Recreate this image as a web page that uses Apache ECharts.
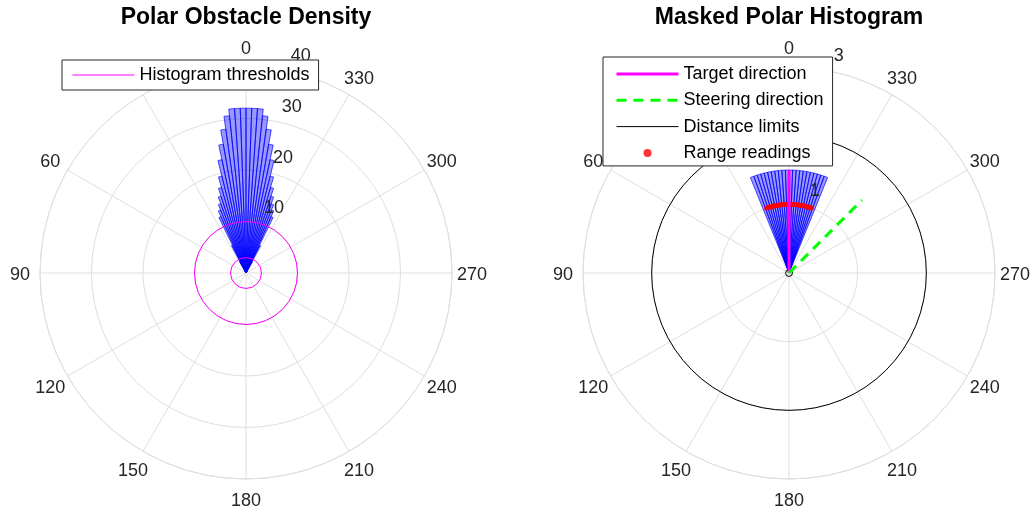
<!DOCTYPE html>
<html><head><meta charset="utf-8">
<script src="https://cdn.jsdelivr.net/npm/echarts@6/dist/echarts.min.js"></script>
<style>html,body{margin:0;padding:0;background:#fff}#c{width:1033px;height:515px}</style>
</head><body><div id="c"></div>
<script>
// ---------- data ----------
const angleTicks = [0, 30, 60, 90, 120, 150, 180, 210, 240, 270, 300, 330];
const densityRTicks = [0, 10, 20, 30, 40];
const maskedRTicks = [0, 1, 2, 3];

// Polar obstacle density: 2-degree sectors (edges in degrees, + = counterclockwise from top)
const densityBinEdges = [-30,-28,-26,-24,-22,-20,-18,-16,-14,-12,-10,-8,-6,-4,-2,0,2,4,6,8,10,12,14,16,18,20,22,24,26,28,30];
const densityValues   = [2.5,6,12,13.2,14.3,15.7,17.3,19.4,22.5,25.4,28.2,30.7,32,32,32,32,32,32,30.7,28.2,25.4,22.5,19.4,17.3,15.7,14.3,13.2,12,6,2.5];
const histogramThresholds = [3, 10];

// Masked polar histogram
const maskedBinEdges = [-22,-20,-18,-16,-14,-12,-10,-8,-6,-4,-2,0,2,4,6,8,10,12,14,16,18,20,22];
const maskedValues   = [1.5,1.5,1.5,1.5,1.5,1.5,1.5,1.5,1.5,1.5,1.5,1.5,1.5,1.5,1.5,1.5,1.5,1.5,1.5,1.5,1.5,1.5];
const targetDirection = 0;
const steeringDirection = 315;
const directionLength = 1.5;
const distanceLimits = [0.05, 2];
const rangeAngles   = [-19,-18,-17,-16,-15,-14,-13,-12,-11,-10,-9,-8,-7,-6,-5,-4,-3,-2,-1,0,1,2,3,4,5,6,7,8,9,10,11,12,13,14,15,16,17,18,19];
const rangeReadings = [1,1,1,1,1,1,1,1,1,1,1,1,1,1,1,1,1,1,1,1,1,1,1,1,1,1,1,1,1,1,1,1,1,1,1,1,1,1,1];

// ---------- style ----------
const FONT = 'Liberation Sans, Arial, Helvetica, sans-serif';
const TXT = '#262626';
const GRID = '#dfdfdf';
const FS = 18;
const CENTERS = [[246, 273], [789, 273]];
const RADIUS = 206;
const LABEL_RADIUS = 226;   // pixel radius of the theta tick label centres

const chart = echarts.init(document.getElementById('c'));
const norm = a => ((a % 360) + 360) % 360;

function mainPolar(i) { return { center: CENTERS[i], radius: RADIUS }; }
function angleAxisMain(pi) {
  return {
    polarIndex: pi, type: 'value', min: 0, max: 360,
    interval: angleTicks[1] - angleTicks[0], startAngle: 90, clockwise: false,
    axisLine: { show: true, lineStyle: { color: GRID, width: 1 } },
    axisTick: { show: false },
    splitLine: { show: true, lineStyle: { color: GRID, width: 1 } },
    axisLabel: { show: false }
  };
}
function radiusAxisMain(pi, ticks) {
  return {
    polarIndex: pi, type: 'value', min: ticks[0], max: ticks[ticks.length - 1], interval: ticks[1] - ticks[0],
    axisLine: { show: false }, axisTick: { show: false }, axisLabel: { show: false },
    splitLine: { show: true, lineStyle: { color: GRID, width: 1 } }
  };
}
function angleAxisLabelPolar(pi) {
  return { polarIndex: pi, type: 'value', min: 0, max: 360, startAngle: 80, clockwise: false, show: false };
}
function radiusAxisLabelPolar(pi, ticks) {
  return {
    polarIndex: pi, type: 'value', min: ticks[0], max: ticks[ticks.length - 1], interval: ticks[1] - ticks[0],
    z: 50,
    axisLine: { show: false }, axisTick: { show: false }, splitLine: { show: false },
    axisLabel: { margin: 0, align: 'left', verticalAlign: 'bottom', padding: [0, 0, 5, 9],
      color: TXT, fontSize: FS, fontFamily: FONT,
      formatter: v => (v === 0 ? '' : String(v)) }
  };
}
function thetaLabelSeries(pi, rMax) {
  const rl = rMax * LABEL_RADIUS / RADIUS;
  return {
    type: 'scatter', coordinateSystem: 'polar', polarIndex: pi, z: 1, silent: true, clip: false,
    symbol: 'circle', symbolSize: 1, itemStyle: { color: 'rgba(0,0,0,0)' },
    label: { show: true, position: 'inside', offset: [0, 2], color: TXT, fontSize: FS, fontFamily: FONT, opacity: 1,
      formatter: p => String(p.value[1]) },
    data: angleTicks.map(a => [rl, a])
  };
}

function wedgeSeries(pi, edges, values) {
  return {
    type: 'custom', coordinateSystem: 'polar', polarIndex: pi, z: 2, silent: true,
    data: values.map((v, i) => [v, edges[i], edges[i + 1]]),
    renderItem(params, api) {
      const r = api.value(0), a0 = api.value(1), a1 = api.value(2);
      const pts = [api.coord([0, norm(a0)])];
      const n = 8;
      for (let k = 0; k <= n; k++) {
        pts.push(api.coord([r, norm(a0 + (a1 - a0) * k / n)]));
      }
      return { type: 'polygon', shape: { points: pts },
        style: { fill: 'rgba(0,0,255,0.40)', stroke: '#0000ff', lineWidth: 0.7 } };
    }
  };
}
function circleSeries(pi, radii, color) {
  return {
    type: 'custom', coordinateSystem: 'polar', polarIndex: pi, z: 3, silent: true,
    data: radii.map(r => [r, 0]),
    renderItem(params, api) {
      const c = api.coord([0, 0]);
      const p = api.coord([api.value(0), 0]);
      const r = Math.hypot(p[0] - c[0], p[1] - c[1]);
      return { type: 'circle', shape: { cx: c[0], cy: c[1], r: r },
        style: { fill: null, stroke: color, lineWidth: 1 } };
    }
  };
}

const legendBase = {
  orient: 'vertical', z: 100, backgroundColor: '#ffffff', borderColor: TXT, borderWidth: 1,
  itemWidth: 62, itemHeight: 14, itemTextGap: 6, selectedMode: false,
  textStyle: { color: '#000', fontSize: FS, fontFamily: FONT }
};
const hideSym = { opacity: 0 };

const option = {
  animation: false,
  backgroundColor: '#ffffff',
  title: [
    { text: 'Polar Obstacle Density', left: 241, top: 1, textAlign: 'center',
      textStyle: { fontSize: 23, fontWeight: 'bold', color: '#000', fontFamily: FONT } },
    { text: 'Masked Polar Histogram', left: 784, top: 1, textAlign: 'center',
      textStyle: { fontSize: 23, fontWeight: 'bold', color: '#000', fontFamily: FONT } }
  ],
  polar: [mainPolar(0), mainPolar(1), mainPolar(0), mainPolar(1)],
  angleAxis: [angleAxisMain(0), angleAxisMain(1), angleAxisLabelPolar(2), angleAxisLabelPolar(3)],
  radiusAxis: [radiusAxisMain(0, densityRTicks), radiusAxisMain(1, maskedRTicks),
               radiusAxisLabelPolar(2, densityRTicks), radiusAxisLabelPolar(3, maskedRTicks)],
  legend: [
    Object.assign({}, legendBase, { left: 62, top: 60, padding: [6, 9, 6, 10], itemGap: 8,
      data: [{ name: 'Histogram thresholds', itemStyle: hideSym, lineStyle: { width: 1 } }] }),
    Object.assign({}, legendBase, { left: 603, top: 57, padding: [8, 9, 4, 12], itemGap: 8.3,
      data: [
        { name: 'Target direction', itemStyle: hideSym, lineStyle: { width: 3 } },
        { name: 'Steering direction', itemStyle: hideSym, lineStyle: { width: 3 } },
        { name: 'Distance limits', itemStyle: hideSym, lineStyle: { width: 1 } },
        { name: 'Range readings', icon: 'path://M0,0M62,14M27,7a4,4 0 1,0 8,0a4,4 0 1,0 -8,0' }] })
  ],
  series: [
    thetaLabelSeries(0, densityRTicks[densityRTicks.length - 1]),
    thetaLabelSeries(1, maskedRTicks[maskedRTicks.length - 1]),

    wedgeSeries(0, densityBinEdges, densityValues),
    circleSeries(0, histogramThresholds, '#ff00ff'),
    { name: 'Histogram thresholds', type: 'line', coordinateSystem: 'polar', polarIndex: 0, data: [],
      symbol: 'none', itemStyle: { color: '#ff00ff' }, lineStyle: { color: '#ff00ff', width: 1 } },

    wedgeSeries(1, maskedBinEdges, maskedValues),
    circleSeries(1, distanceLimits, '#000000'),
    { name: 'Distance limits', type: 'line', coordinateSystem: 'polar', polarIndex: 1, data: [],
      symbol: 'none', itemStyle: { color: '#000' }, lineStyle: { color: '#000', width: 1 } },
    { name: 'Range readings', type: 'scatter', coordinateSystem: 'polar', polarIndex: 1, z: 4,
      symbol: 'circle', symbolSize: 5, itemStyle: { color: '#ff0000' },
      data: rangeReadings.map((r, i) => [r, norm(rangeAngles[i])]) },
    { name: 'Target direction', type: 'line', coordinateSystem: 'polar', polarIndex: 1, z: 5,
      symbol: 'none', itemStyle: { color: '#ff00ff' }, lineStyle: { color: '#ff00ff', width: 3 },
      data: [[0, targetDirection], [directionLength, targetDirection]] },
    { name: 'Steering direction', type: 'line', coordinateSystem: 'polar', polarIndex: 1, z: 5,
      symbol: 'none', itemStyle: { color: '#00ff00' }, lineStyle: { color: '#00ff00', width: 3, type: [10, 7] },
      data: [[0, steeringDirection], [directionLength, steeringDirection]] }
  ]
};
chart.setOption(option);
</script></body></html>
